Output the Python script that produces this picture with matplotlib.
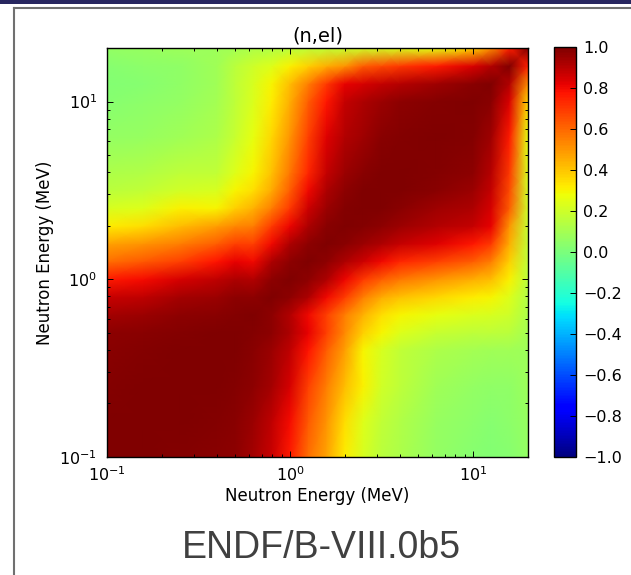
import numpy as np
import matplotlib
matplotlib.use('Agg')
import matplotlib.pyplot as plt
from matplotlib.patches import Rectangle
from matplotlib.lines import Line2D
from matplotlib.ticker import NullFormatter

# Energy grid (MeV), log-spaced points at which the correlation was read
energy_MeV = [0.100, 0.158, 0.251, 0.398, 0.501, 0.631, 0.794, 1.000, 1.259,
              1.585, 1.995, 2.512, 3.162, 3.981, 6.310, 10.00, 12.59, 15.85, 20.0]

# Upper triangle of the (symmetric) correlation matrix, row i starts at column i
corr_upper = [
    [1.00, 1.00, 0.99, 0.98, 0.97, 0.93, 0.87, 0.76, 0.58, 0.47, 0.32, 0.22, 0.15, 0.12, 0.06, 0.03, 0.02, 0.03, 0.06],
    [1.00, 1.00, 0.99, 0.98, 0.95, 0.89, 0.79, 0.63, 0.50, 0.35, 0.24, 0.17, 0.13, 0.07, 0.04, 0.03, 0.04, 0.07],
    [1.00, 1.00, 0.99, 0.97, 0.93, 0.85, 0.68, 0.55, 0.42, 0.31, 0.21, 0.16, 0.09, 0.06, 0.05, 0.05, 0.08],
    [1.00, 1.00, 0.98, 0.95, 0.89, 0.78, 0.62, 0.48, 0.30, 0.22, 0.17, 0.12, 0.10, 0.09, 0.09, 0.08],
    [1.00, 0.99, 0.97, 0.92, 0.82, 0.68, 0.53, 0.38, 0.30, 0.24, 0.18, 0.16, 0.16, 0.15, 0.10],
    [1.00, 0.97, 0.91, 0.80, 0.68, 0.55, 0.44, 0.35, 0.30, 0.26, 0.23, 0.22, 0.20, 0.12],
    [1.00, 0.97, 0.92, 0.80, 0.69, 0.55, 0.46, 0.41, 0.36, 0.32, 0.30, 0.24, 0.13],
    [1.00, 0.97, 0.92, 0.81, 0.70, 0.62, 0.57, 0.50, 0.45, 0.42, 0.31, 0.15],
    [1.00, 0.97, 0.92, 0.86, 0.80, 0.74, 0.68, 0.62, 0.55, 0.38, 0.16],
    [1.00, 0.98, 0.95, 0.92, 0.88, 0.83, 0.77, 0.70, 0.45, 0.17],
    [1.00, 0.99, 0.97, 0.95, 0.91, 0.88, 0.82, 0.50, 0.18],
    [1.00, 1.00, 0.98, 0.94, 0.92, 0.85, 0.62, 0.20],
    [1.00, 1.00, 0.98, 0.95, 0.88, 0.66, 0.21],
    [1.00, 0.99, 0.97, 0.90, 0.70, 0.22],
    [1.00, 0.99, 0.94, 0.76, 0.25],
    [1.00, 0.98, 0.84, 0.37],
    [1.00, 0.91, 0.52],
    [1.00, 0.75],
    [1.00],
]

title_text = "(n,el)"
axis_label = "Neutron Energy (MeV)"
library_text = "ENDF/B-VIII.0b5"
cbar_ticks = [-1.0, -0.8, -0.6, -0.4, -0.2, 0.0, 0.2, 0.4, 0.6, 0.8, 1.0]

# Build full symmetric matrix
n = len(energy_MeV)
C = np.zeros((n, n))
for i, row in enumerate(corr_upper):
    for k, val in enumerate(row):
        j = i + k
        C[i, j] = val
        C[j, i] = val

E = np.array(energy_MeV)
X, Y = np.meshgrid(E, E)

W, H = 631, 575
fig = plt.figure(figsize=(W / 100, H / 100), dpi=100)
fig.patch.set_facecolor('white')

# slide decorations
fig.add_artist(Rectangle((0, 1 - 4 / H), 1, 4 / H, transform=fig.transFigure,
                         facecolor='#27265f', edgecolor='none'))
fig.add_artist(Line2D([14.4 / W, 14.4 / W], [0, 1 - 8.2 / H], transform=fig.transFigure,
                      color='#707070', lw=1.5))
fig.add_artist(Line2D([14.4 / W, 1], [1 - 8.2 / H, 1 - 8.2 / H], transform=fig.transFigure,
                      color='#707070', lw=1.5))

ax = fig.add_axes([107 / W, (H - 457) / H, 421 / W, 409 / H])
mesh = ax.pcolormesh(X, Y, C, shading='gouraud', cmap='jet', vmin=-1, vmax=1)
ax.set_xscale('log')
ax.set_yscale('log')
ax.set_xlim(E[0], E[-1])
ax.set_ylim(E[0], E[-1])
ax.xaxis.set_minor_formatter(NullFormatter())
ax.yaxis.set_minor_formatter(NullFormatter())
for s in ax.spines.values():
    s.set_linewidth(1.0)
ax.tick_params(which='both', direction='in', top=True, right=True, width=0.7, colors='black')
ax.tick_params(which='major', length=4)
ax.tick_params(which='minor', length=2.5)
ax.tick_params(axis='x', which='major', labelsize=11.5, pad=6)
ax.tick_params(axis='y', which='major', labelsize=11.5, pad=7)
ax.set_xlabel(axis_label, fontsize=12, labelpad=2)
ax.set_ylabel(axis_label, fontsize=12)
ax.set_title(title_text, fontsize=14, pad=5)

cax = fig.add_axes([554 / W, (H - 457) / H, 22 / W, 410 / H])
cb = fig.colorbar(mesh, cax=cax, ticks=cbar_ticks)
cb.outline.set_linewidth(1.0)
cax.tick_params(direction='in', length=4, width=0.7, labelsize=11.5, pad=5)

fig.text(321 / W, 1 - 548 / H, library_text, fontsize=27, color='#404040',
         family='Liberation Sans', ha='center', va='center')

fig.savefig('out.png', dpi=100)
